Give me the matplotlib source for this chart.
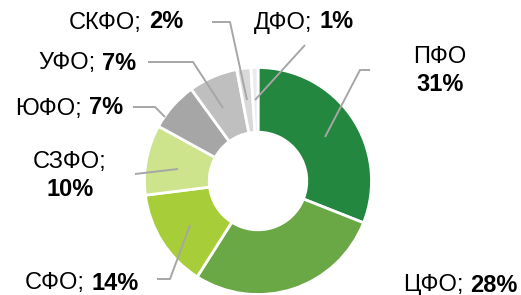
import matplotlib.pyplot as plt
from matplotlib.offsetbox import TextArea, HPacker, VPacker, AnnotationBbox

plt.rcParams['font.family'] = ['Liberation Sans', 'DejaVu Sans']

regions = ['ПФО', 'ЦФО', 'СФО', 'СЗФО', 'ЮФО', 'УФО', 'СКФО', 'ДФО']
shares = [31, 28, 14, 10, 7, 7, 2, 1]
colors = ['#23873F', '#6AA846', '#A7CE39', '#CDE48C',
          '#A6A6A6', '#BFBFBF', '#D9D9D9', '#EBEBEB']

W, H = 521, 295
fig = plt.figure(figsize=(W / 100, H / 100), dpi=100)
ax = fig.add_axes([0, 0, 1, 1])

cx, cy, r = 258, H - 181, 113.5
ax.pie(shares, colors=colors, startangle=90, counterclock=False,
       center=(cx, cy), radius=r, frame=True,
       wedgeprops={'width': r * 0.57, 'edgecolor': 'white', 'linewidth': 2})
ax.set_xlim(0, W)
ax.set_ylim(0, H)
ax.set_aspect('equal')
ax.axis('off')

# label centres (pixels from top-left), two-line flag
label_pos = {
    'ПФО': (440, 71, True),
    'ЦФО': (460, 285, False),
    'СФО': (82, 283, False),
    'СЗФО': (70, 176, True),
    'ЮФО': (69, 108, False),
    'УФО': (87, 63, False),
    'СКФО': (126, 22, False),
    'ДФО': (304, 22, False),
}

# leader lines (pixels from top-left)
leaders = {
    'ПФО': [(325, 137), (360, 70), (370, 70)],
    'СФО': [(190, 225), (170, 279), (157, 279)],
    'СЗФО': [(178, 169), (135, 174)],
    'ЮФО': [(165, 117), (155, 107), (133, 107)],
    'УФО': [(223, 108), (193, 62), (148, 62)],
    'СКФО': [(247, 100), (230, 22), (212, 22)],
    'ДФО': [(255, 100), (305, 45)],
}

for name, pts in leaders.items():
    xs = [p[0] for p in pts]
    ys = [H - p[1] for p in pts]
    ax.plot(xs, ys, color='#A6A6A6', lw=1.4, solid_capstyle='butt')

fs = 17
for name, val in zip(regions, shares):
    x, y, two = label_pos[name]
    if name == 'ПФО':
        top = TextArea(name, textprops=dict(fontsize=fs))
    else:
        top = TextArea(name + ';', textprops=dict(fontsize=fs))
    bold = TextArea(f'{val}%', textprops=dict(fontsize=fs, fontweight='bold'))
    if two:
        box = VPacker(children=[top, bold], align='center', pad=0, sep=3)
    else:
        box = HPacker(children=[top, bold], align='baseline', pad=0, sep=5)
    ab = AnnotationBbox(box, (x, H - y), frameon=False, box_alignment=(0.5, 0.5))
    ax.add_artist(ab)

fig.savefig('out.png', dpi=100)
